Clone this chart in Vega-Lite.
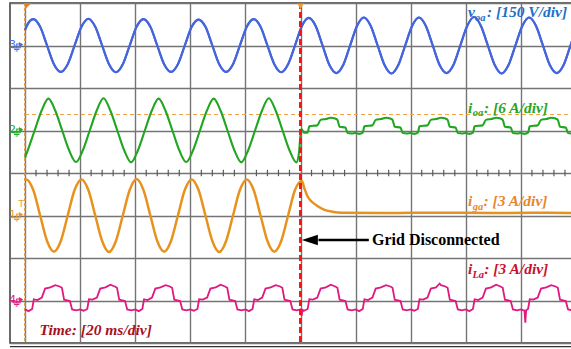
{
"$schema": "https://vega.github.io/schema/vega-lite/v6.json",
"width": 570, "height": 340,
"autosize": {"type": "none"},
"padding": {"left": 10, "top": 3, "right": 0, "bottom": 6},
"background": "white",
"config": {
 "view": {"stroke": "#3a3a3a", "strokeWidth": 1.5},
 "axis": {"labels": false, "ticks": false, "domain": false, "title": null, "grid": true, "gridColor": "#747474", "gridWidth": 1.4, "gridOpacity": 1},
 "axisX": {"tickCount": 10},
 "axisY": {"tickCount": 8}
},
"datasets": {
"blue": [
{"t":0,"v":3.36},{"t":0.5,"v":3.44},{"t":3,"v":3.62},{"t":5.5,"v":3.44},{"t":8,"v":3.0},{"t":10.5,"v":2.56},{"t":13,"v":2.38},{"t":15.5,"v":2.56},{"t":18,"v":3.0},
{"t":20.5,"v":3.44},{"t":23,"v":3.63},{"t":25.5,"v":3.44},{"t":28,"v":3.0},{"t":30.5,"v":2.56},{"t":33,"v":2.37},{"t":35.5,"v":2.56},{"t":38,"v":3.0},
{"t":40.5,"v":3.44},{"t":43,"v":3.62},{"t":45.5,"v":3.44},{"t":48,"v":3.0},{"t":50.5,"v":2.56},{"t":53,"v":2.38},{"t":55.5,"v":2.56},{"t":58,"v":3.0},
{"t":60.5,"v":3.44},{"t":63,"v":3.61},{"t":65.5,"v":3.44},{"t":68,"v":3.0},{"t":70.5,"v":2.56},{"t":73,"v":2.38},{"t":75.5,"v":2.56},{"t":78,"v":3.0},
{"t":80.5,"v":3.44},{"t":83,"v":3.62},{"t":85.5,"v":3.44},{"t":88,"v":3.0},{"t":90.5,"v":2.56},{"t":93,"v":2.37},{"t":95.5,"v":2.56},{"t":98,"v":3.0},
{"t":100.5,"v":3.46},{"t":103,"v":3.65},{"t":105.5,"v":3.46},{"t":108,"v":3.0},{"t":110.5,"v":2.54},{"t":113,"v":2.35},{"t":115.5,"v":2.54},{"t":118,"v":3.0},
{"t":120.5,"v":3.46},{"t":123,"v":3.66},{"t":125.5,"v":3.46},{"t":128,"v":3.0},{"t":130.5,"v":2.54},{"t":133,"v":2.34},{"t":135.5,"v":2.54},{"t":138,"v":3.0},
{"t":140.5,"v":3.46},{"t":143,"v":3.66},{"t":145.5,"v":3.46},{"t":148,"v":3.0},{"t":150.5,"v":2.54},{"t":153,"v":2.35},{"t":155.5,"v":2.54},{"t":158,"v":3.0},
{"t":160.5,"v":3.46},{"t":163,"v":3.67},{"t":165.5,"v":3.46},{"t":168,"v":3.0},{"t":170.5,"v":2.54},{"t":173,"v":2.34},{"t":175.5,"v":2.54},{"t":178,"v":3.0},
{"t":180.5,"v":3.46},{"t":183,"v":3.66},{"t":185.5,"v":3.46},{"t":188,"v":3.0},{"t":190.5,"v":2.54},{"t":193,"v":2.35},{"t":195.5,"v":2.54},{"t":198,"v":3.0},
{"t":200.5,"v":3.46},{"t":203,"v":3.66}
],
"green": [
{"t":0,"v":0.36},{"t":1,"v":0.535},{"t":3.5,"v":1.0},{"t":6,"v":1.465},{"t":8.5,"v":1.75},{"t":11,"v":1.465},{"t":13.5,"v":1.0},{"t":16,"v":0.535},{"t":18.5,"v":0.26},
{"t":21,"v":0.535},{"t":23.5,"v":1.0},{"t":26,"v":1.465},{"t":28.5,"v":1.76},{"t":31,"v":1.465},{"t":33.5,"v":1.0},{"t":36,"v":0.535},{"t":38.5,"v":0.25},
{"t":41,"v":0.535},{"t":43.5,"v":1.0},{"t":46,"v":1.465},{"t":48.5,"v":1.75},{"t":51,"v":1.465},{"t":53.5,"v":1.0},{"t":56,"v":0.535},{"t":58.5,"v":0.26},
{"t":61,"v":0.535},{"t":63.5,"v":1.0},{"t":66,"v":1.465},{"t":68.5,"v":1.75},{"t":71,"v":1.465},{"t":73.5,"v":1.0},{"t":76,"v":0.535},{"t":78.5,"v":0.25},
{"t":81,"v":0.535},{"t":83.5,"v":1.0},{"t":86,"v":1.465},{"t":88.5,"v":1.76},{"t":91,"v":1.465},{"t":93.5,"v":1.0},{"t":96,"v":0.535},{"t":98.5,"v":0.25},
{"t":99.4,"v":0.45},{"t":100.3,"v":1.04},{"t":101.3,"v":0.95},{"t":102.6,"v":0.95},{"t":103.2,"v":1.1},{"t":106.1,"v":1.12},{"t":107.3,"v":1.25},{"t":109.2,"v":1.27},{"t":111,"v":1.3},{"t":112.6,"v":1.28},{"t":113.4,"v":1.25},{"t":114.2,"v":1.09},{"t":116.3,"v":1.07},{"t":117.1,"v":0.94},{"t":118.6,"v":0.93},
{"t":120,"v":0.94},{"t":121.3,"v":0.92},{"t":122.6,"v":0.95},{"t":123.2,"v":1.1},{"t":126.1,"v":1.12},{"t":127.3,"v":1.25},{"t":129.2,"v":1.27},{"t":131,"v":1.3},{"t":132.6,"v":1.28},{"t":133.4,"v":1.25},{"t":134.2,"v":1.09},{"t":136.3,"v":1.07},{"t":137.1,"v":0.94},{"t":138.6,"v":0.93},
{"t":140,"v":0.94},{"t":141.3,"v":0.92},{"t":142.6,"v":0.95},{"t":143.2,"v":1.1},{"t":146.1,"v":1.12},{"t":147.3,"v":1.25},{"t":149.2,"v":1.27},{"t":151,"v":1.3},{"t":152.6,"v":1.28},{"t":153.4,"v":1.25},{"t":154.2,"v":1.09},{"t":156.3,"v":1.07},{"t":157.1,"v":0.94},{"t":158.6,"v":0.93},
{"t":160,"v":0.94},{"t":161.3,"v":0.92},{"t":162.6,"v":0.95},{"t":163.2,"v":1.1},{"t":166.1,"v":1.12},{"t":167.3,"v":1.25},{"t":169.2,"v":1.27},{"t":171,"v":1.3},{"t":172.6,"v":1.28},{"t":173.4,"v":1.25},{"t":174.2,"v":1.09},{"t":176.3,"v":1.07},{"t":177.1,"v":0.94},{"t":178.6,"v":0.93},
{"t":180,"v":0.94},{"t":181.3,"v":0.92},{"t":182.6,"v":0.95},{"t":183.2,"v":1.1},{"t":186.1,"v":1.12},{"t":187.3,"v":1.25},{"t":189.2,"v":1.27},{"t":191,"v":1.3},{"t":192.6,"v":1.28},{"t":193.4,"v":1.25},{"t":194.2,"v":1.09},{"t":196.3,"v":1.07},{"t":197.1,"v":0.94},{"t":198.6,"v":0.93},
{"t":200,"v":0.94},{"t":201.3,"v":0.92}
],
"orange": [
{"t":0,"v":-0.16},{"t":0.5,"v":-0.15},{"t":3,"v":-0.4},{"t":5.5,"v":-1.0},{"t":8,"v":-1.6},{"t":10.5,"v":-1.85},{"t":13,"v":-1.6},{"t":15.5,"v":-1.0},{"t":18,"v":-0.4},
{"t":20.5,"v":-0.15},{"t":23,"v":-0.4},{"t":25.5,"v":-1.0},{"t":28,"v":-1.6},{"t":30.5,"v":-1.86},{"t":33,"v":-1.6},{"t":35.5,"v":-1.0},{"t":38,"v":-0.4},
{"t":40.5,"v":-0.14},{"t":43,"v":-0.4},{"t":45.5,"v":-1.0},{"t":48,"v":-1.6},{"t":50.5,"v":-1.85},{"t":53,"v":-1.6},{"t":55.5,"v":-1.0},{"t":58,"v":-0.4},
{"t":60.5,"v":-0.15},{"t":63,"v":-0.4},{"t":65.5,"v":-1.0},{"t":68,"v":-1.6},{"t":70.5,"v":-1.86},{"t":73,"v":-1.6},{"t":75.5,"v":-1.0},{"t":78,"v":-0.4},
{"t":80.5,"v":-0.15},{"t":83,"v":-0.4},{"t":85.5,"v":-1.0},{"t":88,"v":-1.6},{"t":90.5,"v":-1.85},{"t":93,"v":-1.6},{"t":95.5,"v":-1.0},{"t":98,"v":-0.4},
{"t":100.5,"v":-0.19},{"t":101.5,"v":-0.38},{"t":102.5,"v":-0.54},{"t":104,"v":-0.67},{"t":106,"v":-0.77},{"t":108.5,"v":-0.86},{"t":111.5,"v":-0.91},{"t":115,"v":-0.935},{"t":130,"v":-0.94},{"t":150,"v":-0.935},{"t":170,"v":-0.94},{"t":190,"v":-0.935},{"t":201.5,"v":-0.94}
],
"pink": [
{"t":0,"v":-3.21},{"t":1.3,"v":-3.25},{"t":2.6,"v":-3.2},{"t":3.2,"v":-2.97},{"t":4.5,"v":-2.99},{"t":6.1,"v":-2.93},{"t":7.3,"v":-2.72},{"t":9.2,"v":-2.69},{"t":11,"v":-2.64},{"t":12.6,"v":-2.67},{"t":13.4,"v":-2.7},{"t":14.2,"v":-2.98},{"t":16.3,"v":-3.01},{"t":17.1,"v":-3.21},{"t":18.6,"v":-3.23},
{"t":20,"v":-3.21},{"t":21.3,"v":-3.24},{"t":22.6,"v":-3.2},{"t":23.2,"v":-2.97},{"t":24.5,"v":-2.98},{"t":26.1,"v":-2.93},{"t":27.3,"v":-2.72},{"t":29.2,"v":-2.69},{"t":31,"v":-2.63},{"t":32.6,"v":-2.67},{"t":33.4,"v":-2.7},{"t":34.2,"v":-2.98},{"t":36.3,"v":-3.01},{"t":37.1,"v":-3.21},{"t":38.6,"v":-3.23},
{"t":40,"v":-3.21},{"t":41.3,"v":-3.25},{"t":42.6,"v":-3.2},{"t":43.2,"v":-2.97},{"t":44.5,"v":-2.99},{"t":46.1,"v":-2.93},{"t":47.3,"v":-2.72},{"t":49.2,"v":-2.69},{"t":51,"v":-2.64},{"t":52.6,"v":-2.67},{"t":53.4,"v":-2.7},{"t":54.2,"v":-2.98},{"t":56.3,"v":-3.01},{"t":57.1,"v":-3.21},{"t":58.6,"v":-3.23},
{"t":60,"v":-3.21},{"t":61.3,"v":-3.24},{"t":62.6,"v":-3.2},{"t":63.2,"v":-2.97},{"t":64.5,"v":-2.98},{"t":66.1,"v":-2.93},{"t":67.3,"v":-2.72},{"t":69.2,"v":-2.69},{"t":71,"v":-2.63},{"t":72.6,"v":-2.67},{"t":73.4,"v":-2.7},{"t":74.2,"v":-2.98},{"t":76.3,"v":-3.01},{"t":77.1,"v":-3.21},{"t":78.6,"v":-3.23},
{"t":80,"v":-3.21},{"t":81.3,"v":-3.25},{"t":82.6,"v":-3.2},{"t":83.2,"v":-2.97},{"t":84.5,"v":-2.99},{"t":86.1,"v":-2.93},{"t":87.3,"v":-2.72},{"t":89.2,"v":-2.69},{"t":91,"v":-2.64},{"t":92.6,"v":-2.67},{"t":93.4,"v":-2.7},{"t":94.2,"v":-2.98},{"t":96.3,"v":-3.01},{"t":97.1,"v":-3.21},{"t":98.6,"v":-3.23},
{"t":100,"v":-3.21},{"t":100.4,"v":-3.36},{"t":100.8,"v":-3.22},{"t":101.3,"v":-3.24},{"t":102.6,"v":-3.2},{"t":103.2,"v":-2.97},{"t":104.5,"v":-2.98},{"t":106.1,"v":-2.93},{"t":107.3,"v":-2.72},{"t":109.2,"v":-2.69},{"t":111,"v":-2.63},{"t":112.6,"v":-2.67},{"t":113.4,"v":-2.7},{"t":114.2,"v":-2.98},{"t":116.3,"v":-3.01},{"t":117.1,"v":-3.21},{"t":118.6,"v":-3.23},
{"t":120,"v":-3.21},{"t":121.3,"v":-3.25},{"t":122.6,"v":-3.2},{"t":123.2,"v":-2.97},{"t":124.5,"v":-2.99},{"t":126.1,"v":-2.93},{"t":127.3,"v":-2.72},{"t":129.2,"v":-2.69},{"t":131,"v":-2.64},{"t":132.6,"v":-2.67},{"t":133.4,"v":-2.7},{"t":134.2,"v":-2.98},{"t":136.3,"v":-3.01},{"t":137.1,"v":-3.21},{"t":138.6,"v":-3.23},
{"t":140,"v":-3.21},{"t":141.3,"v":-3.24},{"t":142.6,"v":-3.2},{"t":143.2,"v":-2.97},{"t":144.5,"v":-2.98},{"t":146.1,"v":-2.93},{"t":147.3,"v":-2.72},{"t":149.2,"v":-2.69},{"t":150.5,"v":-2.6},{"t":151,"v":-2.64},{"t":152.6,"v":-2.67},{"t":153.4,"v":-2.7},{"t":154.2,"v":-2.98},{"t":156.3,"v":-3.01},{"t":157.1,"v":-3.21},{"t":158.6,"v":-3.23},
{"t":160,"v":-3.21},{"t":161.3,"v":-3.25},{"t":162.6,"v":-3.2},{"t":163.2,"v":-2.97},{"t":164.5,"v":-2.99},{"t":166.1,"v":-2.93},{"t":167.3,"v":-2.72},{"t":169.2,"v":-2.69},{"t":171,"v":-2.63},{"t":172.6,"v":-2.67},{"t":173.4,"v":-2.7},{"t":174.2,"v":-2.98},{"t":176.3,"v":-3.01},{"t":177.1,"v":-3.21},{"t":178.6,"v":-3.23},
{"t":180,"v":-3.21},{"t":181.3,"v":-3.24},{"t":181.6,"v":-3.52},{"t":181.9,"v":-3.23},{"t":182.6,"v":-3.2},{"t":183.2,"v":-2.97},{"t":184.5,"v":-2.98},{"t":186.1,"v":-2.93},{"t":187.3,"v":-2.72},{"t":189.2,"v":-2.69},{"t":191,"v":-2.64},{"t":192.6,"v":-2.67},{"t":193.4,"v":-2.7},{"t":194.2,"v":-2.98},{"t":196.3,"v":-3.01},{"t":197.1,"v":-3.21},{"t":198.6,"v":-3.23},
{"t":200,"v":-3.21},{"t":201.3,"v":-3.24}
],
"ticks": [
{"t":4},{"t":8},{"t":12},{"t":16},{"t":24},{"t":28},{"t":32},{"t":36},{"t":44},{"t":48},{"t":52},{"t":56},{"t":64},{"t":68},{"t":72},{"t":76},{"t":84},{"t":88},{"t":92},{"t":96},
{"t":104},{"t":108},{"t":112},{"t":116},{"t":124},{"t":128},{"t":132},{"t":136},{"t":144},{"t":148},{"t":152},{"t":156},{"t":164},{"t":168},{"t":172},{"t":176},{"t":184},{"t":188},{"t":192},{"t":196}
],
"labels": [
{"t":160.8,"v":3.67,"txt":"v","c":"lb"},
{"t":167.7,"v":3.67,"txt":": [150 V/div]","c":"lb"},
{"t":160.8,"v":1.42,"txt":"i","c":"lg"},
{"t":166.6,"v":1.42,"txt":": [6 A/div]","c":"lg"},
{"t":160.8,"v":-0.77,"txt":"i","c":"lo"},
{"t":166.4,"v":-0.77,"txt":": [3 A/div]","c":"lo"},
{"t":160.8,"v":-2.37,"txt":"i","c":"lr"},
{"t":166.7,"v":-2.37,"txt":": [3 A/div]","c":"lr"},
{"t":5.3,"v":-3.82,"txt":"Time: [20 ms/div]","c":"lt"}
],
"subs": [
{"t":163.3,"v":3.58,"txt":"oa","c":"lb"},
{"t":162.5,"v":1.33,"txt":"oa","c":"lg"},
{"t":162.5,"v":-0.86,"txt":"ga","c":"lo"},
{"t":162.4,"v":-2.46,"txt":"La","c":"lr"}
],
"chan": [
{"v":3.02,"txt":"3","c":"mb"},
{"v":1.02,"txt":"2","c":"mg"},
{"v":-0.98,"txt":"1","c":"mo"},
{"v":-2.98,"txt":"4","c":"mp"}
]
},
"layer": [
{"data": {"name": "blue"}, "mark": {"type": "line", "color": "#4565dd", "strokeWidth": 2.1, "interpolate": "monotone", "clip": true},
 "encoding": {"x": {"field": "t", "type": "quantitative", "scale": {"domain": [-5.445, 201.45], "nice": false, "zero": false}}, "y": {"field": "v", "type": "quantitative", "scale": {"domain": [-4, 4], "nice": false, "zero": false}}}},
{"data": {"name": "ticks"}, "mark": {"type": "rule", "color": "#5a5a5a", "strokeWidth": 1.2},
 "encoding": {"x": {"field": "t", "type": "quantitative", "scale": {"domain": [-5.445, 201.45], "nice": false, "zero": false}}, "y": {"datum": 0.075, "type": "quantitative", "scale": {"domain": [-4, 4], "nice": false, "zero": false}}, "y2": {"datum": -0.075}}},
{"data": {"values": [{}]}, "mark": {"type": "rule", "color": "#f2a348", "strokeDash": [4, 3], "strokeWidth": 1.2},
 "encoding": {"x": {"datum": 0, "type": "quantitative", "scale": {"domain": [-5.445, 201.45], "nice": false, "zero": false}}, "x2": {"datum": 201.45}, "y": {"datum": 1.376, "type": "quantitative", "scale": {"domain": [-4, 4], "nice": false, "zero": false}}}},
{"data": {"values": [{}]}, "mark": {"type": "rule", "color": "#e08a2a", "strokeDash": [3, 2], "strokeWidth": 1.6},
 "encoding": {"x": {"datum": 0, "type": "quantitative", "scale": {"domain": [-5.445, 201.45], "nice": false, "zero": false}}, "y": {"datum": 4, "type": "quantitative", "scale": {"domain": [-4, 4], "nice": false, "zero": false}}, "y2": {"datum": -4}}},
{"data": {"name": "blue"}, "mark": {"type": "line", "color": "#4565dd", "strokeWidth": 2.1, "interpolate": "monotone", "clip": true},
 "encoding": {"x": {"field": "t", "type": "quantitative", "scale": {"domain": [-5.445, 201.45], "nice": false, "zero": false}}, "y": {"field": "v", "type": "quantitative", "scale": {"domain": [-4, 4], "nice": false, "zero": false}}}},
{"data": {"name": "green"}, "mark": {"type": "line", "color": "#22a622", "strokeWidth": 2.1, "interpolate": "monotone", "clip": true},
 "encoding": {"x": {"field": "t", "type": "quantitative", "scale": {"domain": [-5.445, 201.45], "nice": false, "zero": false}}, "y": {"field": "v", "type": "quantitative", "scale": {"domain": [-4, 4], "nice": false, "zero": false}}}},
{"data": {"name": "orange"}, "mark": {"type": "line", "color": "#e8921e", "strokeWidth": 2.5, "interpolate": "monotone", "clip": true},
 "encoding": {"x": {"field": "t", "type": "quantitative", "scale": {"domain": [-5.445, 201.45], "nice": false, "zero": false}}, "y": {"field": "v", "type": "quantitative", "scale": {"domain": [-4, 4], "nice": false, "zero": false}}}},
{"data": {"name": "pink"}, "mark": {"type": "line", "color": "#e0187f", "strokeWidth": 1.8, "clip": true},
 "encoding": {"x": {"field": "t", "type": "quantitative", "scale": {"domain": [-5.445, 201.45], "nice": false, "zero": false}}, "y": {"field": "v", "type": "quantitative", "scale": {"domain": [-4, 4], "nice": false, "zero": false}}}},
{"data": {"values": [{}]}, "mark": {"type": "rule", "color": "#ff1414", "strokeDash": [6, 3], "strokeWidth": 3},
 "encoding": {"x": {"datum": 100, "type": "quantitative", "scale": {"domain": [-5.445, 201.45], "nice": false, "zero": false}}, "y": {"datum": 4, "type": "quantitative", "scale": {"domain": [-4, 4], "nice": false, "zero": false}}, "y2": {"datum": -4}}},
{"data": {"values": [{}]}, "mark": {"type": "point", "shape": "triangle-down", "filled": true, "color": "#f0a030", "size": 45, "opacity": 1},
 "encoding": {"x": {"datum": 100, "type": "quantitative", "scale": {"domain": [-5.445, 201.45], "nice": false, "zero": false}}, "y": {"datum": 3.92, "type": "quantitative", "scale": {"domain": [-4, 4], "nice": false, "zero": false}}}},
{"data": {"values": [{}]}, "mark": {"type": "point", "shape": "M -1 -1 L 1 -1 L -1 1 Z", "filled": true, "color": "#e8801e", "size": 40, "opacity": 1},
 "encoding": {"x": {"datum": 1.1, "type": "quantitative", "scale": {"domain": [-5.445, 201.45], "nice": false, "zero": false}}, "y": {"datum": 3.92, "type": "quantitative", "scale": {"domain": [-4, 4], "nice": false, "zero": false}}}},
{"data": {"values": [{}]}, "mark": {"type": "rule", "color": "black", "strokeWidth": 2.5},
 "encoding": {"x": {"datum": 106.5, "type": "quantitative", "scale": {"domain": [-5.445, 201.45], "nice": false, "zero": false}}, "x2": {"datum": 124.8}, "y": {"datum": -1.576, "type": "quantitative", "scale": {"domain": [-4, 4], "nice": false, "zero": false}}}},
{"data": {"values": [{}]}, "mark": {"type": "point", "shape": "M -1 0 L 1 -0.65 L 1 0.65 Z", "filled": true, "color": "black", "size": 256, "opacity": 1},
 "encoding": {"x": {"datum": 103.4, "type": "quantitative", "scale": {"domain": [-5.445, 201.45], "nice": false, "zero": false}}, "y": {"datum": -1.576, "type": "quantitative", "scale": {"domain": [-4, 4], "nice": false, "zero": false}}}},
{"data": {"values": [{}]}, "mark": {"type": "text", "text": "Grid Disconnected", "font": "Liberation Serif", "fontSize": 16, "fontWeight": "bold", "color": "black", "align": "left", "baseline": "alphabetic"},
 "encoding": {"x": {"datum": 125.95, "type": "quantitative", "scale": {"domain": [-5.445, 201.45], "nice": false, "zero": false}}, "y": {"datum": -1.694, "type": "quantitative", "scale": {"domain": [-4, 4], "nice": false, "zero": false}}}},
{"data": {"values": [{}]}, "mark": {"type": "rule", "color": "#333333", "strokeWidth": 1.2},
 "encoding": {"x": {"datum": -5.445, "type": "quantitative", "scale": {"domain": [-5.445, 201.45], "nice": false, "zero": false}}, "x2": {"datum": 201.45}, "y": {"datum": -4.085, "type": "quantitative", "scale": {"domain": [-4, 4], "nice": false, "zero": false}}}},
{"data": {"name": "labels"}, "mark": {"type": "text", "font": "Liberation Serif", "fontSize": 15.5, "fontStyle": "italic", "fontWeight": "bold", "align": "left", "baseline": "alphabetic"},
 "encoding": {"x": {"field": "t", "type": "quantitative", "scale": {"domain": [-5.445, 201.45], "nice": false, "zero": false}}, "y": {"field": "v", "type": "quantitative", "scale": {"domain": [-4, 4], "nice": false, "zero": false}},
  "text": {"field": "txt"}, "color": {"field": "c", "type": "nominal", "legend": null, "scale": {"domain": ["lb","lg","lo","lr","lt","mb","mg","mo","mp"], "range": ["#1d6fc6","#26a626","#e8862a","#c8102e","#a8101e","#4a6fe0","#2aaa2a","#eb9a2a","#e0207f"]}}}},
{"data": {"name": "subs"}, "mark": {"type": "text", "font": "Liberation Serif", "fontSize": 10.5, "fontStyle": "italic", "fontWeight": "bold", "align": "left", "baseline": "alphabetic"},
 "encoding": {"x": {"field": "t", "type": "quantitative", "scale": {"domain": [-5.445, 201.45], "nice": false, "zero": false}}, "y": {"field": "v", "type": "quantitative", "scale": {"domain": [-4, 4], "nice": false, "zero": false}},
  "text": {"field": "txt"}, "color": {"field": "c", "type": "nominal", "legend": null, "scale": {"domain": ["lb","lg","lo","lr","lt","mb","mg","mo","mp"], "range": ["#1d6fc6","#26a626","#e8862a","#c8102e","#a8101e","#4a6fe0","#2aaa2a","#eb9a2a","#e0207f"]}}}},
{"data": {"name": "chan"}, "mark": {"type": "text", "font": "DejaVu Sans", "fontSize": 11, "align": "center", "baseline": "middle"},
 "encoding": {"x": {"datum": -4.5, "type": "quantitative", "scale": {"domain": [-5.445, 201.45], "nice": false, "zero": false}}, "y": {"field": "v", "type": "quantitative", "scale": {"domain": [-4, 4], "nice": false, "zero": false}},
  "text": {"field": "txt"}, "color": {"field": "c", "type": "nominal", "legend": null, "scale": {"domain": ["lb","lg","lo","lr","lt","mb","mg","mo","mp"], "range": ["#1d6fc6","#26a626","#e8862a","#c8102e","#a8101e","#4a6fe0","#2aaa2a","#eb9a2a","#e0207f"]}}}},
{"data": {"name": "chan"}, "mark": {"type": "point", "shape": "triangle-right", "filled": true, "size": 26, "opacity": 1},
 "encoding": {"x": {"datum": -1.4, "type": "quantitative", "scale": {"domain": [-5.445, 201.45], "nice": false, "zero": false}}, "y": {"field": "v", "type": "quantitative", "scale": {"domain": [-4, 4], "nice": false, "zero": false}},
  "color": {"field": "c", "type": "nominal", "legend": null, "scale": {"domain": ["lb","lg","lo","lr","lt","mb","mg","mo","mp"], "range": ["#1d6fc6","#26a626","#e8862a","#c8102e","#a8101e","#4a6fe0","#2aaa2a","#eb9a2a","#e0207f"]}}}},
{"data": {"name": "chan"}, "mark": {"type": "point", "shape": "M 0.7 -0.1 L 0 -0.1 L 0 0.45 M -0.6 0.45 L 0.6 0.45 M -0.38 0.68 L 0.38 0.68 M -0.15 0.9 L 0.15 0.9", "filled": false, "size": 196, "strokeWidth": 1.1, "opacity": 1},
 "encoding": {"x": {"datum": -3.0, "type": "quantitative", "scale": {"domain": [-5.445, 201.45], "nice": false, "zero": false}}, "y": {"field": "v", "type": "quantitative", "scale": {"domain": [-4, 4], "nice": false, "zero": false}},
  "color": {"field": "c", "type": "nominal", "legend": null, "scale": {"domain": ["lb","lg","lo","lr","lt","mb","mg","mo","mp"], "range": ["#1d6fc6","#26a626","#e8862a","#c8102e","#a8101e","#4a6fe0","#2aaa2a","#eb9a2a","#e0207f"]}}}},
{"data": {"values": [{}]}, "mark": {"type": "text", "text": "T", "font": "DejaVu Sans", "fontSize": 9, "color": "#eb9a2a", "align": "center", "baseline": "middle"},
 "encoding": {"x": {"datum": -1.4, "type": "quantitative", "scale": {"domain": [-5.445, 201.45], "nice": false, "zero": false}}, "y": {"datum": -0.74, "type": "quantitative", "scale": {"domain": [-4, 4], "nice": false, "zero": false}}}}
]
}
